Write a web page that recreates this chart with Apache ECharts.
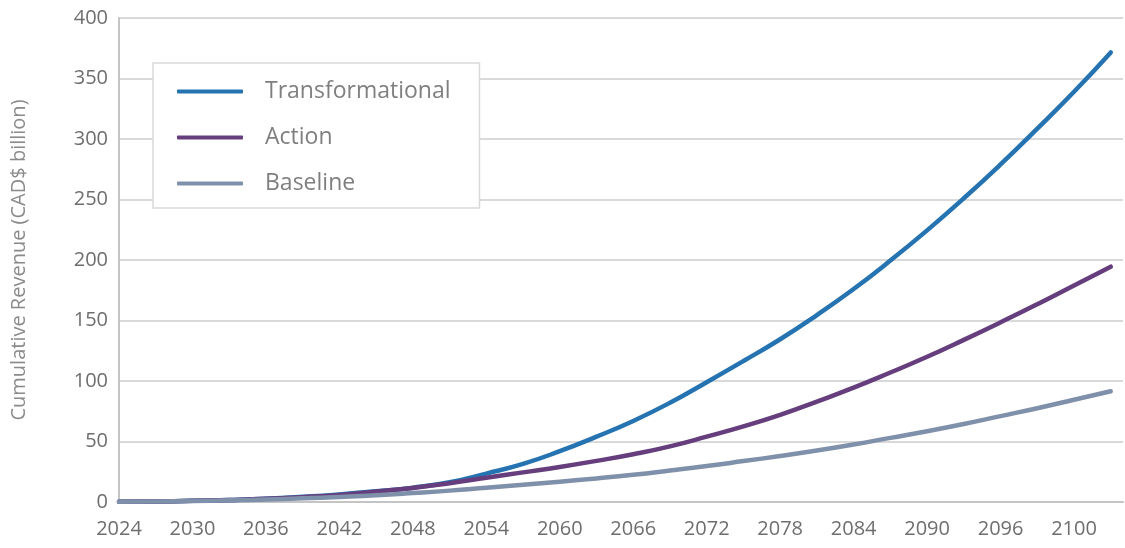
<!DOCTYPE html>
<html>
<head>
<meta charset="utf-8">
<script src="https://cdn.jsdelivr.net/npm/echarts@6/dist/echarts.min.js"></script>
<style>
  html, body { margin: 0; padding: 0; background: #ffffff; }
  #chart { width: 1125px; height: 548px; }
</style>
</head>
<body>
<div id="chart"></div>
<script>
// Years sampled every three years
const years = [2024, 2027, 2030, 2033, 2036, 2039, 2042, 2045, 2048, 2051, 2054, 2057, 2060, 2063,
               2066, 2069, 2072, 2075, 2078, 2081, 2084, 2087, 2090, 2093, 2096, 2099, 2102, 2105];

// Cumulative revenue, CAD$ billion
const transformational = [0.3, 0.5, 1.0, 1.7, 2.7, 4.3, 6.3, 8.8, 11.8, 16.3, 23.5, 31.5, 42, 54,
                          67, 82, 99, 116.5, 134.5, 154.5, 176, 199.5, 224.5, 251, 279, 308.5, 339, 371.5];
const action = [0.3, 0.5, 1.0, 1.7, 2.6, 4.0, 5.8, 8.6, 11.6, 15.5, 20, 24.5, 29, 34,
                39.5, 46, 54, 62.5, 72, 83, 94.5, 107, 120, 134, 148.5, 163.5, 179, 194.5];
const baseline = [0.3, 0.5, 0.9, 1.4, 2.1, 3.0, 4.2, 5.6, 7.4, 9.4, 11.8, 14.2, 16.8, 19.5,
                  22.5, 26, 29.7, 33.8, 38, 42.5, 47.5, 53, 58.5, 64.5, 71, 77.5, 84.5, 91.5];

// Axis tick positions and the labels printed under them
const xTickValues = [2024, 2030, 2036, 2042, 2048, 2054, 2060, 2066, 2072, 2078, 2084, 2090, 2096, 2102];
const xTickLabels = ['2024', '2030', '2036', '2042', '2048', '2054', '2060', '2066', '2072', '2078',
                     '2084', '2090', '2096', '2100'];

const seriesNames = ['Transformational', 'Action', 'Baseline'];
const seriesColors = ['#2673b2', '#663e7d', '#7f90aa'];
const seriesValues = [transformational, action, baseline];

const font = "'Open Sans', 'Noto Sans', sans-serif";

const chart = echarts.init(document.getElementById('chart'), null, { renderer: 'canvas' });

chart.setOption({
  animation: false,
  backgroundColor: '#ffffff',
  textStyle: { fontFamily: font },
  grid: { left: 119, right: 2, top: 18, bottom: 46, containLabel: false, outerBoundsMode: 'none' },
  legend: {
    orient: 'vertical',
    left: 153,
    top: 63,
    data: seriesNames,
    icon: 'roundRect',
    itemWidth: 66,
    itemHeight: 4,
    itemGap: 23,
    padding: [17, 29, 13, 24],
    backgroundColor: '#ffffff',
    borderColor: '#d9d9d9',
    borderWidth: 1.5,
    borderRadius: 0,
    textStyle: { color: '#7f7f7f', fontSize: 23, fontFamily: font, padding: [0, 0, 0, 17] }
  },
  xAxis: {
    type: 'value',
    min: 2024,
    max: 2106,
    interval: 6,
    axisLine: { show: true, lineStyle: { color: '#c4c4c4', width: 2 } },
    axisTick: { show: false },
    splitLine: { show: false },
    axisLabel: {
      color: '#6e6e6e',
      fontSize: 20,
      margin: 17,
      showMaxLabel: false,
      formatter: function (v) {
        const i = xTickValues.indexOf(Math.round(v));
        return i >= 0 ? xTickLabels[i] : '';
      }
    }
  },
  yAxis: {
    type: 'value',
    min: 0,
    max: 400,
    interval: 50,
    name: 'Cumulative Revenue (CAD$ billion)',
    nameLocation: 'middle',
    nameRotate: 90,
    nameGap: 90,
    nameTextStyle: { color: '#8a8a8a', fontSize: 20, fontFamily: font },
    axisLine: { show: true, lineStyle: { color: '#c4c4c4', width: 2 } },
    axisTick: { show: false },
    axisLabel: { color: '#6e6e6e', fontSize: 20, margin: 11 },
    splitLine: { show: true, lineStyle: { color: '#d9d9d9', width: 2 } }
  },
  series: seriesNames.map((name, k) => ({
    name: name,
    type: 'line',
    smooth: true,
    showSymbol: false,
    symbol: 'none',
    color: seriesColors[k],
    lineStyle: { width: 4.5, color: seriesColors[k], cap: 'round', join: 'round' },
    data: years.map((y, i) => [y, seriesValues[k][i]])
  }))
});
</script>
</body>
</html>
